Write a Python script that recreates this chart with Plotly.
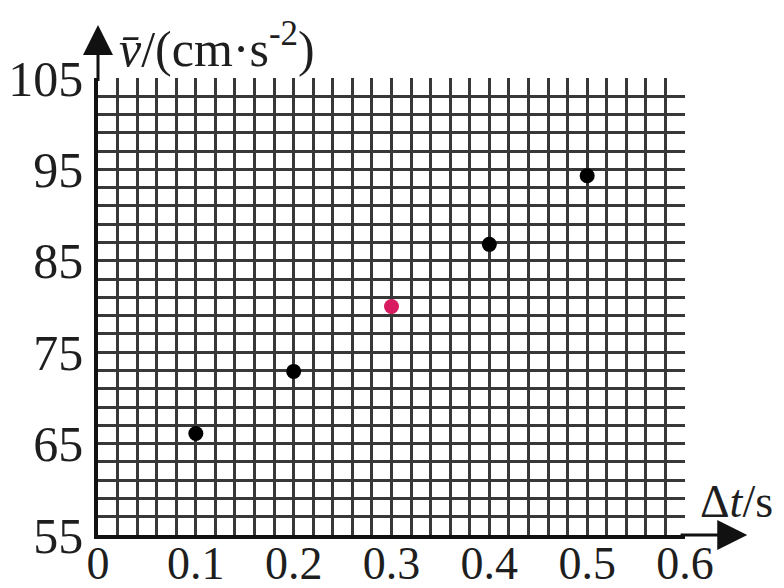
import plotly.graph_objects as go

# data
dt = [0.1, 0.2, 0.3, 0.4, 0.5]
vbar = [66.1, 72.9, 80.0, 86.8, 94.3]
colors = ["black", "black", "#d81b60", "black", "black"]

x_ticks = [0, 0.1, 0.2, 0.3, 0.4, 0.5, 0.6]
x_labels = ["0", "0.1", "0.2", "0.3", "0.4", "0.5", "0.6"]
y_ticks = [55, 65, 75, 85, 95, 105]
y_labels = ["55", "65", "75", "85", "95", "105"]

FONT = "Liberation Serif"
GRID = "#383838"
TXT = "#1e1e1e"

fig = go.Figure()
fig.add_trace(go.Scatter(
    x=dt, y=vbar, mode="markers",
    marker=dict(size=15, color=colors, line=dict(width=0)),
    showlegend=False, hoverinfo="skip",
))

# page body has an 8px default margin: compensate in layout margins
fig.update_layout(
    width=776, height=588,
    margin=dict(l=90, r=99, t=70, b=61),
    paper_bgcolor="white", plot_bgcolor="white",
    font=dict(family=FONT, size=46, color=TXT),
    xaxis=dict(
        range=[0, 0.6], tickvals=x_ticks, ticktext=x_labels,
        showgrid=True, gridcolor=GRID, gridwidth=2.8,
        minor=dict(dtick=0.02, tick0=0, showgrid=True, gridcolor=GRID, gridwidth=2.8),
        showline=True, linecolor="#111", linewidth=3.5,
        ticks="", zeroline=False, ticklabelstandoff=-15, automargin=False,
        tickfont=dict(family=FONT, size=46, color=TXT),
    ),
    yaxis=dict(
        range=[55, 105], tickvals=y_ticks, ticktext=y_labels,
        showgrid=True, gridcolor=GRID, gridwidth=2.8,
        minor=dict(dtick=2, tick0=55, showgrid=True, gridcolor=GRID, gridwidth=2.8),
        showline=True, linecolor="#111", linewidth=3.5,
        ticks="", zeroline=False, ticklabelstandoff=1, automargin=False,
        tickfont=dict(family=FONT, size=50, color=TXT),
    ),
)

# axis arrows
fig.add_annotation(x=0, y=1.116, xref="x", yref="y domain",
                   ax=0, ay=0.99, axref="x", ayref="y domain",
                   text="", showarrow=True, arrowhead=2, arrowsize=2,
                   arrowwidth=3, arrowcolor="#111", standoff=0, startstandoff=0)
fig.add_annotation(x=1.106, y=55, xref="x domain", yref="y",
                   ax=0.99, ay=55, axref="x domain", ayref="y",
                   text="", showarrow=True, arrowhead=2, arrowsize=2,
                   arrowwidth=3, arrowcolor="#111", standoff=0, startstandoff=0)

# axis titles
fig.add_annotation(x=0.032, y=1.072, xref="paper", yref="paper",
                   xanchor="left", yanchor="middle",
                   text="<i>v\u0304</i>/(cm·s<sup>-2</sup>)", showarrow=False,
                   font=dict(family=FONT, size=50, color=TXT))
fig.add_annotation(x=1.087, y=0.074, xref="paper", yref="paper",
                   xanchor="center", yanchor="middle",
                   text="Δ<i>t</i>/s", showarrow=False,
                   font=dict(family=FONT, size=46, color=TXT))

fig.write_html("out.html")
